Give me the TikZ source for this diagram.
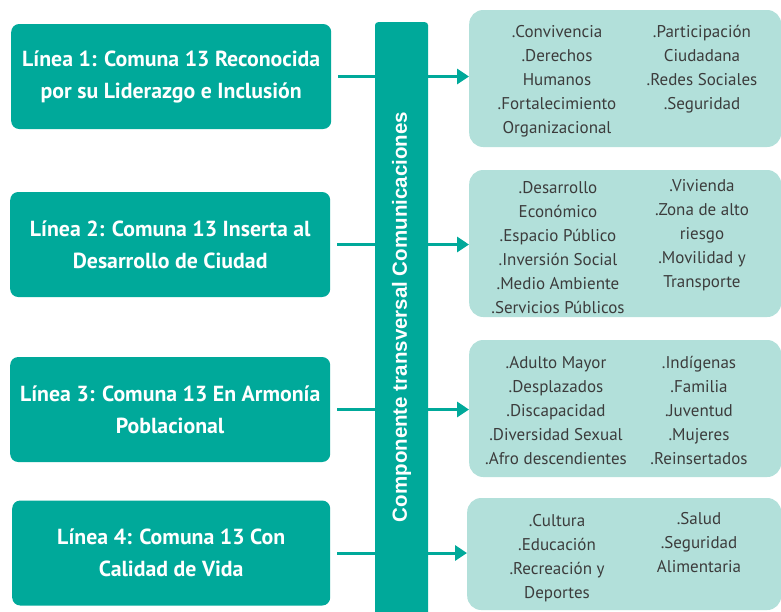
\documentclass[tikz,border=0pt]{standalone}
\usepackage{fontspec}
\setmainfont{PT Sans}
\newfontfamily\barfont{Liberation Sans}
\usetikzlibrary{arrows.meta,positioning}
\definecolor{verde}{HTML}{00A99A}
\definecolor{verdeclaro}{HTML}{B2E0DA}
\definecolor{gristexto}{HTML}{3C3C3C}
\tikzset{
    %Define standard arrow tip
    >={Triangle[length=12pt,width=15pt]},
    %Define style for the boxes on the left
    linea/.style={
           rectangle,
           rounded corners=8pt,
           fill=verde,
           text=white,
           font=\bfseries\fontsize{21.8}{32}\selectfont,
           align=center,
           minimum width=320pt,
           minimum height=105pt,
           anchor=west},
    tema/.style={
           rectangle,
           rounded corners=14pt,
           fill=verdeclaro,
           anchor=west},
    columna/.style={
           text=gristexto,
           font=\fontsize{17}{24}\selectfont,
           align=center,
           inner sep=0pt,
           anchor=north},
    % Define arrow style
    flecha/.style={
           ->,
           draw=verde,
           line width=3pt,
           shorten <=7pt}
}
\begin{document}
\begin{tikzpicture}[x=1pt,y=-1pt]
\useasboundingbox (0,0) rectangle (781,611);
\node[linea](l1) at (11,76.5) {Línea 1: Comuna 13 Reconocida\\por su Liderazgo e Inclusión};
\node[linea](l2) at (10,244.5) {Línea 2: Comuna 13 Inserta al\\Desarrollo de Ciudad};
\node[linea](l3) at (10,409.5) {Línea 3: Comuna 13 En Armonía\\Poblacional};
\node[linea, minimum width=318pt](l4) at (12,553) {Línea 4: Comuna 13 Con\\Calidad de Vida};
\node[tema, minimum width=312pt, minimum height=137pt](t1) at (469,78.5) {};
\node[tema, minimum width=312pt, minimum height=147pt](t2) at (469,243.5) {};
\node[tema, minimum width=312pt, minimum height=137pt](t3) at (469,408.5) {};
\node[tema, minimum width=314pt, minimum height=112pt](t4) at (467,554) {};
% arrows pass behind the bar
\foreach \i in {1,...,4}
  \draw[flecha] (l\i.east) -- (l\i.east -| t\i.west);
\node[rectangle, rounded corners=3pt, fill=verde, minimum width=53pt,
  minimum height=600pt, anchor=north](barra) at (401.5,22) {};
\node[rotate=90, text=white, font=\barfont\bfseries\fontsize{20.5}{22}\selectfont]
  at (401.5,317) {Componente transversal Comunicaciones};
% contents of the boxes on the right
\node[columna](c11) at (557,25) {.Convivencia\\.Derechos\\Humanos\\.Fortalecimiento\\Organizacional};
\node[columna](c12) at (702,25) {.Participación\\Ciudadana\\.Redes Sociales\\.Seguridad};
\node[columna](c21) at (558,181) {.Desarrollo\\Económico\\.Espacio Público\\.Inversión Social\\.Medio Ambiente\\.Servicios Públicos};
\node[columna](c22) at (702,179) {.Vivienda\\.Zona de alto\\riesgo\\.Movilidad y\\Transporte};
\node[columna](c31) at (556,356) {.Adulto Mayor\\.Desplazados\\.Discapacidad\\.Diversidad Sexual\\.Afro descendientes};
\node[columna](c32) at (699,356) {.Indígenas\\.Familia\\.Juventud\\.Mujeres\\.Reinsertados};
\node[columna](c41) at (557,514) {.Cultura\\.Educación\\.Recreación y\\Deportes};
\node[columna](c42) at (699,512) {.Salud\\.Seguridad\\Alimentaria};
\end{tikzpicture}
\end{document}
